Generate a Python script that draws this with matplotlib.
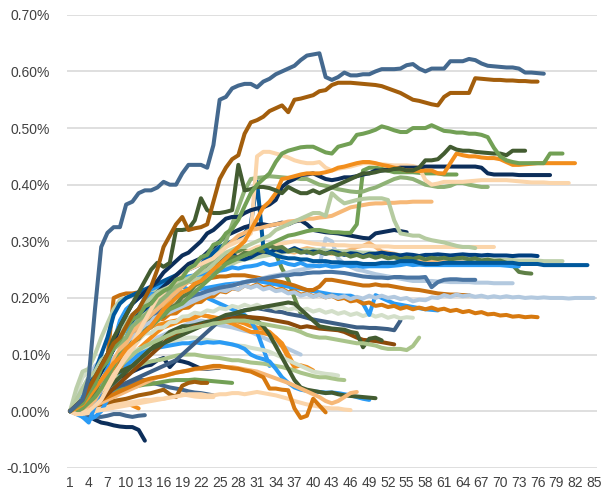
import matplotlib
matplotlib.use("Agg")
import matplotlib.pyplot as plt
from matplotlib.ticker import FuncFormatter

# values are in thousandths of a percent (290 -> 0.290%), index 0 = day 1
s01 = [0, 10, 20, 60, 180, 290, 315, 325, 325, 365, 370, 385, 390, 390, 395, 405, 400, 400, 420, 435,
       435, 435, 430, 470, 550, 555, 570, 575, 578, 578, 572, 582, 587, 595, 600, 605, 610, 620, 628, 630,
       632, 590, 585, 590, 598, 593, 593, 595, 595, 600, 604, 604, 604, 605, 611, 613, 605, 600, 605, 605,
       605, 618, 618, 618, 622, 620, 614, 610, 609, 608, 607, 607, 605, 598, 598, 597, 596]
s02 = [0, 10, 20, 40, 60, 80, 100, 120, 130, 150, 170, 180, 200, 220, 250, 290, 310, 330, 343, 320,
       323, 325, 330, 370, 410, 430, 445, 452, 490, 510, 514, 520, 530, 535, 540, 528, 550, 552, 555, 558,
       565, 567, 576, 580, 580, 580, 579, 578, 577, 576, 574, 570, 566, 562, 556, 550, 548, 545, 542, 540,
       555, 562, 562, 562, 562, 588, 587, 586, 585, 585, 584, 584, 583, 583, 582, 582]
s03 = [0, 8, 14, 32, 48, 75, 88, 112, 126, 148, 162, 168, 185, 190, 204, 212, 218, 232, 236, 252,
       258, 272, 276, 294, 298, 314, 322, 338, 362, 385, 400, 410, 420, 440, 455, 460, 463, 466, 467, 467,
       462, 457, 455, 467, 470, 473, 488, 490, 493, 497, 503, 500, 496, 493, 493, 500, 500, 500, 505, 500,
       495, 494, 492, 492, 490, 490, 488, 484, 465, 450, 443, 440, 438, 438, 438, 438, 438, 455, 455, 455]
s04 = [0, 10, 20, 40, 60, 80, 100, 130, 150, 170, 190, 210, 230, 250, 262, 255, 262, 320, 320, 322,
       337, 376, 355, 350, 350, 352, 355, 435, 390, 392, 396, 396, 394, 390, 385, 396, 390, 385, 385, 390,
       385, 390, 395, 400, 405, 410, 415, 420, 420, 422, 425, 425, 428, 428, 425, 425, 430, 443, 443, 445,
       455, 467, 462, 460, 460, 458, 457, 456, 455, 455, 452, 460, 460, 460]
s05 = [0, 5, 12, 25, 40, 55, 70, 85, 95, 110, 120, 130, 140, 150, 165, 180, 190, 200, 210, 215,
       225, 230, 240, 250, 260, 270, 280, 290, 300, 320, 340, 360, 370, 385, 410, 412, 415, 418, 420, 420,
       420, 422, 425, 430, 432, 435, 438, 440, 440, 438, 435, 433, 430, 428, 425, 425, 424, 425, 425, 420,
       420, 438, 455, 452, 450, 450, 448, 447, 447, 445, 440, 435, 435, 436, 437, 438, 438, 438, 438, 438,
       438, 438]
s06 = [0, 10, 20, 35, 55, 80, 100, 120, 150, 170, 190, 200, 210, 220, 230, 245, 255, 265, 275, 280,
       290, 300, 314, 320, 330, 340, 343, 343, 350, 355, 358, 360, 365, 373, 396, 405, 410, 417, 418, 420,
       415, 410, 408, 410, 413, 413, 415, 418, 420, 425, 425, 427, 428, 430, 430, 430, 430, 432, 432, 432,
       432, 432, 432, 432, 432, 432, 430, 420, 418, 418, 418, 418, 417, 417, 417, 417, 417, 417]
s07 = [0, -5, -5, 0, 10, 20, 40, 60, 80, 100, 120, 140, 160, 180, 200, 210, 220, 230, 240, 250,
       255, 260, 265, 270, 280, 290, 295, 300, 305, 314, 450, 458, 458, 455, 452, 448, 443, 440, 438, 438,
       440, 430, 425, 428, 430, 432, 435, 438, 438, 437, 436, 435, 434, 434, 434, 433, 430, 408, 400, 402,
       405, 405, 405, 405, 406, 407, 408, 408, 408, 408, 408, 407, 406, 405, 404, 404, 404, 403, 403, 403,
       403]
s08 = [0, 10, 20, 40, 60, 80, 100, 110, 120, 130, 150, 160, 170, 180, 190, 200, 210, 220, 225, 230,
       240, 250, 260, 270, 280, 300, 330, 360, 390, 410, 412, 413, 415, 414, 413, 412, 412, 410, 410, 405,
       400, 398, 395, 392, 390, 388, 387, 388, 392, 395, 400, 405, 410, 413, 412, 410, 405, 400, 398, 396,
       396, 398, 403, 403, 400, 398, 396, 396]
s09 = [0, 20, 40, 60, 70, 90, 100, 120, 140, 160, 170, 180, 190, 200, 210, 215, 220, 225, 230, 235,
       240, 245, 250, 260, 270, 280, 285, 290, 290, 295, 300, 305, 310, 320, 325, 330, 335, 340, 345, 350,
       350, 345, 385, 375, 367, 370, 373, 375, 376, 376, 376, 373, 337, 314, 312, 310, 310, 305, 302, 300,
       298, 295, 292, 290, 290, 288]
s10 = [0, 0, 5, 15, 25, 40, 60, 80, 100, 110, 120, 130, 140, 150, 160, 170, 180, 185, 190, 200,
       210, 220, 230, 240, 250, 260, 265, 270, 275, 280, 285, 290, 295, 300, 305, 310, 312, 315, 318, 320,
       320, 318, 316, 316, 315, 315, 330, 425, 430, 430, 428, 425, 422, 422, 422, 422, 421, 420, 420, 420,
       418, 418, 418]
s11 = [0, 0, 5, 10, 20, 40, 60, 80, 100, 120, 140, 150, 160, 170, 180, 190, 200, 210, 220, 230,
       240, 250, 260, 270, 280, 290, 300, 310, 315, 320, 322, 325, 328, 330, 332, 335, 336, 338, 340, 340,
       342, 343, 345, 350, 355, 360, 362, 364, 366, 367, 367, 368, 368, 369, 369, 370, 370, 370, 370]
s12 = [0, 5, 15, 30, 50, 70, 90, 110, 130, 150, 170, 180, 190, 200, 210, 220, 230, 240, 250, 260,
       265, 270, 280, 290, 300, 310, 315, 320, 325, 328, 330, 330, 328, 330, 333, 330, 335, 337, 330, 320,
       318, 316, 315, 314, 312, 310, 308, 306, 305, 314, 316, 318, 320, 318, 316]
s13 = [0, 10, 20, 40, 70, 100, 130, 170, 190, 200, 205, 210, 215, 220, 225, 230, 235, 240, 245, 250,
       255, 260, 270, 280, 290, 295, 300, 305, 314, 330, 405, 290, 280, 275, 272, 270, 270, 268, 268, 265,
       265, 265, 263, 263, 262, 262, 262, 260, 260, 260, 262, 262, 262, 265, 265, 265, 262, 260, 260, 260,
       262, 262, 262, 262, 262, 262, 262, 262, 262, 262, 262, 262, 260, 260, 260, 260, 258, 258, 258, 258,
       258, 258, 258, 258]
s14 = [0, 40, 70, 75, 100, 130, 155, 180, 196, 200, 205, 208, 212, 214, 215, 218, 220, 222, 225, 228,
       232, 236, 240, 245, 250, 255, 260, 265, 268, 270, 272, 274, 276, 278, 280, 282, 283, 284, 285, 285,
       285, 284, 283, 283, 282, 282, 281, 280, 280, 279, 278, 277, 276, 276, 275, 275, 274, 273, 272, 272,
       271, 270, 270, 270, 269, 269, 268, 268, 268, 267, 267, 267, 266, 266, 266, 266, 265, 265, 265, 265]
s15 = [0, 10, 20, 35, 50, 70, 90, 110, 130, 150, 160, 172, 180, 192, 200, 212, 215, 222, 225, 232,
       240, 250, 255, 262, 265, 272, 278, 270, 268, 272, 278, 282, 280, 286, 282, 283, 288, 283, 280, 282,
       281, 278, 282, 280, 276, 279, 278, 274, 278, 278, 280, 278, 277, 275, 277, 276, 274, 276, 276, 277,
       276, 275, 276, 277, 276, 276, 275, 276, 275, 275, 275, 274, 275, 275, 275, 274]
s16 = [0, 5, 10, 22, 35, 48, 65, 82, 95, 108, 122, 128, 142, 150, 162, 168, 182, 188, 202, 208,
       222, 228, 242, 248, 262, 262, 272, 272, 280, 278, 285, 282, 292, 288, 290, 282, 285, 280, 282, 278,
       282, 278, 280, 276, 278, 273, 276, 272, 275, 271, 274, 270, 272, 268, 271, 269, 272, 268, 271, 269,
       271, 268, 270, 271, 268, 270, 266, 268, 265, 266, 262, 258, 246, 244, 243]
s17 = [0, 5, -10, -20, 10, 40, 80, 120, 160, 180, 190, 200, 208, 215, 220, 225, 228, 232, 235, 238,
       240, 242, 246, 244, 248, 250, 254, 252, 255, 256, 258, 262, 258, 260, 264, 260, 258, 262, 257, 257,
       256, 258, 255, 256, 258, 256, 257, 255, 256, 256, 256, 256, 257, 258, 260, 258, 259, 258, 258, 258,
       258, 258, 258, 258, 258, 258, 258, 258, 258, 258, 257, 256, 256]
s18 = [0, 20, 40, 60, 80, 90, 92, 95, 100, 110, 120, 130, 140, 150, 160, 170, 175, 180, 185, 190,
       195, 200, 205, 210, 215, 220, 222, 225, 228, 230, 232, 235, 238, 240, 242, 245, 248, 250, 252, 255,
       258, 305, 300, 270, 260, 255, 250, 248, 245, 242, 240, 238, 236, 234, 232, 230, 230, 230, 230, 229,
       229, 228, 228, 228, 228, 227, 227, 227, 226, 226, 226, 226]
s19 = [0, 5, 15, 30, 50, 70, 90, 110, 120, 130, 140, 150, 160, 170, 175, 180, 185, 190, 195, 200,
       205, 208, 212, 215, 218, 220, 222, 225, 228, 230, 232, 234, 236, 238, 240, 240, 242, 242, 244, 245,
       245, 246, 246, 245, 244, 242, 240, 238, 237, 236, 236, 235, 237, 237, 236, 236, 236, 237, 219, 228,
       232, 233, 233, 232, 232, 232]
s20 = [0, 0, 5, 15, 30, 50, 70, 90, 110, 130, 145, 160, 170, 180, 190, 200, 210, 220, 228, 235,
       240, 245, 250, 255, 258, 262, 265, 268, 270, 272, 275, 278, 280, 282, 285, 282, 280, 285, 288, 286,
       283, 280, 278, 280, 282, 285, 290, 292, 297, 290, 282, 280, 278, 275, 272, 270, 268, 266, 265, 265,
       264, 264, 263, 263, 262, 262, 261, 261, 260, 260]
s21 = [0, -5, 0, 10, 20, 35, 50, 65, 80, 95, 110, 125, 140, 150, 160, 170, 180, 190, 200, 210,
       220, 230, 240, 250, 260, 265, 270, 275, 280, 285, 290, 292, 294, 295, 296, 298, 300, 300, 298, 296,
       295, 294, 294, 293, 293, 292, 292, 292, 292, 291, 291, 291, 290, 290, 290, 290, 290, 290, 290, 290,
       290, 290, 290, 290, 290, 290, 290, 290, 290]
s22 = [0, 10, 25, 40, 60, 80, 100, 120, 140, 150, 160, 170, 180, 185, 190, 195, 200, 205, 210, 212,
       214, 216, 218, 220, 222, 224, 225, 226, 228, 230, 230, 228, 226, 224, 222, 220, 218, 216, 214, 212,
       210, 208, 206, 205, 204, 204, 200, 190, 170, 205, 200, 195, 190, 188, 186, 184, 182, 180, 179, 178]
s23 = [0, 5, 12, 18, 32, 43, 62, 73, 92, 103, 122, 128, 142, 148, 162, 163, 172, 173, 182, 183,
       192, 193, 202, 203, 212, 210, 217, 215, 222, 219, 224, 218, 220, 214, 216, 210, 212, 206, 208, 203,
       206, 201, 204, 198, 200, 194, 196, 190, 192, 186, 188, 184, 186, 181, 184, 180, 183, 180, 183, 179,
       181, 177, 179, 175, 177, 173, 175, 171, 172, 169, 170, 167, 168, 166, 167, 166]
s24 = [0, 10, 20, 35, 55, 80, 95, 200, 205, 208, 208, 210, 212, 215, 218, 220, 222, 225, 226, 228,
       230, 232, 234, 236, 238, 238, 240, 240, 240, 238, 236, 234, 232, 230, 228, 225, 222, 218, 214, 214,
       220, 232, 232, 230, 228, 226, 224, 222, 222, 224, 222, 222, 220, 218, 216, 215, 214, 212, 210, 208,
       207, 206, 206, 205, 205]
s25 = [0, 10, 22, 30, 48, 58, 78, 88, 108, 118, 132, 138, 152, 158, 172, 172, 182, 183, 192, 193,
       202, 203, 210, 208, 214, 212, 218, 215, 222, 218, 222, 215, 218, 212, 214, 208, 210, 204, 207, 202,
       206, 201, 204, 200, 203, 198, 202, 199, 204, 200, 204, 200, 202, 198, 200, 194, 197, 196, 201, 200,
       205, 202, 206, 203, 205, 202, 204, 201, 203, 201, 203, 201, 202, 200, 201, 200, 201, 200, 200, 200,
       199, 200, 200, 200, 200]
s26 = [0, 5, 10, 15, 20, 28, 35, 40, 45, 50, 55, 60, 65, 70, 75, 80, 85, 90, 100, 110,
       120, 130, 140, 150, 160, 165, 170, 175, 178, 180, 182, 180, 178, 176, 175, 172, 170, 168, 165, 162,
       160, 158, 156, 154, 152, 150, 148, 148, 147, 147, 146, 145, 143, 160]
s27 = [0, 15, 32, 43, 62, 68, 82, 88, 102, 108, 122, 126, 137, 138, 147, 148, 157, 158, 167, 168,
       174, 172, 178, 176, 182, 180, 186, 183, 188, 184, 188, 183, 186, 181, 184, 179, 182, 178, 181, 176,
       179, 174, 177, 172, 175, 170, 173, 168, 172, 167, 170, 165, 168, 164, 166, 165]
s28 = [0, 0, 5, 10, 15, 20, 30, 40, 50, 60, 70, 80, 90, 100, 110, 120, 130, 135, 140, 145,
       150, 152, 155, 158, 160, 162, 164, 165, 166, 166, 165, 164, 162, 160, 158, 156, 152, 148, 150, 148,
       146, 145, 144, 143, 140, 135, 130, 126, 125, 124, 122, 120, 118]
s29 = [0, 10, 20, 30, 40, 50, 60, 65, 70, 75, 80, 90, 100, 110, 115, 120, 125, 130, 135, 140,
       145, 150, 155, 160, 165, 170, 172, 175, 178, 180, 182, 184, 186, 188, 190, 192, 190, 180, 170, 160,
       150, 148, 146, 145, 144, 140, 138, 113, 128, 130, 125]
s30 = [0, 10, 20, 30, 40, 50, 60, 70, 80, 90, 100, 108, 115, 120, 125, 130, 135, 140, 142, 145,
       148, 150, 152, 155, 156, 158, 160, 160, 160, 158, 156, 154, 152, 150, 148, 146, 144, 140, 135, 132,
       130, 130, 128, 126, 124, 122, 120, 120, 118, 116, 112, 110, 110, 110, 108, 115, 130]
s31 = [0, 0, 5, 10, 20, 30, 45, 60, 75, 90, 100, 110, 120, 130, 140, 148, 152, 156, 160, 162,
       165, 170, 168, 165, 160, 158, 155, 150, 145, 140, 140, 138, 135, 130, 115, 95, 78, 81, 78, 72]
s32 = [0, 30, 60, 70, 75, 80, 85, 90, 95, 100, 105, 110, 112, 115, 118, 120, 122, 125, 128, 130,
       130, 128, 126, 124, 122, 120, 118, 116, 115, 112, 110, 108, 105, 100, 95, 90, 85, 80, 75, 70,
       68, 66, 65, 63]
s33 = [0, 5, 10, 20, 30, 40, 50, 60, 65, 70, 75, 80, 85, 88, 90, 92, 95, 98, 100, 100,
       100, 98, 96, 95, 94, 92, 90, 90, 88, 86, 85, 84, 82, 80, 78, 75, 72, 68, 65, 62,
       60, 60, 58, 56, 55]
s34 = [0, -5, -10, -15, -10, 0, 20, 40, 60, 80, 90, 100, 105, 110, 112, 114, 116, 118, 120, 120,
       122, 120, 122, 121, 122, 120, 118, 115, 110, 100, 95, 92, 88, 75, 60, 50, 42, 38, 36, 35,
       34, 33, 33, 32, 30, 28, 25, 22, 20]
s35 = [0, 5, 10, 15, 20, 30, 40, 50, 60, 70, 80, 90, 100, 110, 120, 130, 140, 145, 150, 150,
       152, 155, 158, 160, 162, 165, 168, 170, 168, 165, 160, 150, 135, 115, 95, 75, 55, 42, 38, 36,
       34, 32, 33, 30, 28, 27, 26, 25, 24, 23]
s36 = [0, 0, 2, 5, 10, 15, 20, 25, 30, 35, 40, 45, 50, 55, 60, 62, 65, 68, 70, 72,
       74, 75, 76, 77, 78, 78, 78, 76, 74, 72, 70, 66, 62, 58, 54, 50, 45, 40, 35, 30,
       25, 18, 14, 18, 25, 32, 34]
s37 = [0, -5, -5, -3, 0, 2, 4, 6, 8, 10, 12, 14, 16, 18, 20, 22, 24, 26, 28, 30,
       30, 30, 28, 28, 30, 30, 32, 32, 30, 32, 34, 32, 30, 28, 25, 22, 18, 15, 12, 10,
       8, 6, 5, 5, 3, 2]
s38 = [0, 0, 5, 10, 15, 20, 25, 30, 35, 40, 45, 50, 55, 58, 60, 62, 65, 68, 70, 72,
       75, 76, 78, 80, 80, 78, 76, 75, 72, 70, 65, 60, 40, 40, 38, 37, 5, -12, -8, 22,
       10, -2]
s39 = [0, -3, -5, -8, -15, -20, -22, -25, -27, -28, -28, -33, -52]
s40 = [0, -3, 0, 5, 8, 10, 12, 15, 18, 15, 10, 5]
s41 = [0, -2, -5, -8, -10, -10, -8, -5, -5, -8, -10, -8, -7]
s42 = [0, 5, 10, 20, 30, 40, 50, 55, 60, 65, 70, 75, 80, 82, 90, 94, 78, 90, 88, 85,
       80, 75, 75, 76, 77]
s43 = [0, 5, 10, 15, 20, 25, 30, 35, 40, 45, 50, 55, 55, 50, 48, 45, 42, 40, 38, 35,
       33, 32, 30, 28]
s44 = [0, 5, 10, 15, 20, 25, 30, 35, 38, 40, 42, 45, 47, 48, 50, 52, 54, 55, 55, 55,
       56, 55, 54, 53, 52, 51, 50]
s45 = [0, 0, 2, 4, 6, 8, 10, 12, 14, 15, 16, 18, 20, 20, 22, 22, 25, 28, 30, 28,
       26, 25, 25, 25]
s46 = [0, 2, 5, 8, 10, 12, 15, 18, 20, 22, 25, 28, 30, 32, 35, 38, 30, 25, 45, 50,
       52, 50, 50]
s47 = [0, 5, 10, 20, 30, 40, 50, 60, 70, 80, 90, 100, 110, 120, 130, 135, 140, 145, 150, 155,
       158, 160, 158, 155, 152, 150, 148, 145, 142, 140, 135, 130, 125, 120, 115, 110, 105, 100]
s48 = [0, 5, 10, 20, 30, 45, 60, 80, 100, 120, 130, 140, 145, 150, 152, 155, 158, 160, 163, 165,
       168, 170, 168, 166, 164, 162, 160, 158, 155, 150, 148, 145, 140, 130, 120, 100, 80]
s49 = [0, 0, 5, 10, 20, 40, 60, 80, 100, 130, 160, 180, 200, 210, 215, 218, 222, 225, 220, 215,
       210, 205, 200, 195, 190, 185, 180, 175, 170, 160, 140, 110, 80]
s50 = [0, 5, 10, 20, 30, 45, 60, 75, 90, 105, 120, 135, 150, 165, 180, 190, 200, 210, 220, 230,
       240, 250, 258, 265, 270, 275, 280, 282, 284, 282, 280, 280, 282, 278, 252, 232, 200, 173]

# colours
steel = '#44698f'
brown = '#a35e0c'
green = '#72a055'
olive = '#435c31'
navy = '#0c2e5a'
orange = '#f28e1c'
peach = '#fbd5aa'
lorange = '#f6b877'
sage = '#b5cba0'
pale = '#d3dfc9'
lblue = '#b3c9df'
blue = '#00589c'
bright = '#2a9bf5'
mblue = '#4a75a3'
dorange = '#d7790f'
dbrown = '#8b4a0a'
mgreen = '#8fb276'
lgreen = '#a9c48a'

series = [
    (s47, lblue), (s48, orange), (s49, bright),
    (s39, navy), (s40, orange), (s41, steel), (s42, navy), (s43, steel), (s44, green),
    (s45, peach), (s46, brown), (s31, orange), (s32, pale), (s33, lgreen), (s34, bright),
    (s35, olive), (s36, lorange), (s37, peach), (s38, dorange), (s50, '#6a8f4c'),
    (s26, '#3d5f85'), (s27, pale), (s28, dbrown), (s29, olive), (s30, lgreen),
    (s22, bright), (s23, dorange), (s24, '#c8700f'), (s25, lblue),
    (s18, lblue), (s19, mblue), (s20, lorange), (s21, peach),
    (s14, '#bccfaa'), (s15, '#003f7f'), (s16, '#5e7f46'), (s17, bright), (s13, blue),
    (s12, navy), (s11, lorange), (s10, green), (s09, sage), (s08, mgreen),
    (s07, peach), (s06, navy), (s05, orange), (s04, olive), (s03, green),
    (s02, brown), (s01, steel),
]

y_ticks = [-0.10, 0.00, 0.10, 0.20, 0.30, 0.40, 0.50, 0.60, 0.70]

plt.rcParams['font.family'] = ['Liberation Sans', 'DejaVu Sans']

fig = plt.figure(figsize=(6.14, 4.93), dpi=100)
ax = fig.add_axes([0.109, 0.051, 0.863, 0.919])

for vals, col in series:
    days = list(range(1, len(vals) + 1))
    ax.plot(days, [v / 1000 for v in vals], color=col, lw=2.9,
            solid_capstyle='round', solid_joinstyle='round')

ax.set_xlim(0.5, 85.5)
ax.set_ylim(-0.10, 0.70)
ax.set_yticks(y_ticks)
ax.yaxis.set_major_formatter(FuncFormatter(lambda v, p: f'{v:.2f}%'))
ax.set_xticks(list(range(1, 86, 3)))
ax.grid(axis='y', color='#d9d9d9', lw=1.2)
ax.set_axisbelow(True)
for sp in ax.spines.values():
    sp.set_visible(False)
ax.tick_params(length=0, labelsize=10, labelcolor='#404040')
ax.tick_params(axis='y', pad=12)
ax.tick_params(axis='x', pad=6)

fig.savefig('out.png', dpi=100)
